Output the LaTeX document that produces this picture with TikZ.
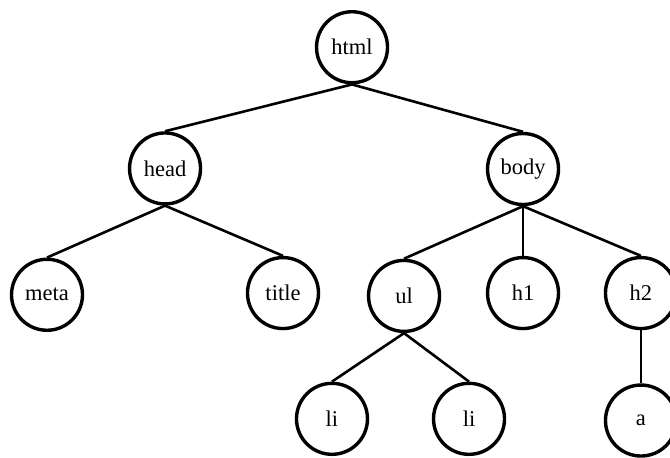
\documentclass[tikz,border=0pt]{standalone}
\usepackage{fontspec}
\setmainfont{Liberation Serif}
\begin{document}
\begin{tikzpicture}[scale=0.2]
			\tikzstyle{every node}+=[inner sep=0pt]
			\tikzstyle{tag}=[draw, circle, line width=3.4pt, minimum size=71pt, font=\fontsize{22.5}{27}\selectfont]
			\tikzstyle{link}=[line width=2.6pt]
			\useasboundingbox (0,0) rectangle (117.74,-80.48);
			\node [tag] (html) at (61.86,-8.3) {html};

			\node [tag] (head) at (29.0,-29.6) {head};
			\node [tag] (body) at (91.91,-29.7) {body};

			\node [tag] (meta) at (8.26,-51.8) {meta};
			\node [tag] (title) at (49.73,-51.5) {title};
			\node [tag] (ul) at (71.0,-52.0) {ul};
			\node [tag] (h1) at (91.91,-51.5) {h1};
			\node [tag] (h2) at (112.64,-51.5) {h2};

			\node [tag] (li1) at (58.34,-73.6) {li};
			\node [tag] (li2) at (82.42,-73.6) {li};
			\node [tag] (a) at (112.64,-73.9) {a};

			\draw [link] (html.south) -- (head.north);
			\draw [link] (html.south) -- (body.north);
			\draw [link] (head.south) -- (meta.north);
			\draw [link] (head.south) -- (title.north);
			\draw [link] (body.south) -- (ul.north);
			\draw [link] (body.south) -- (h1.north);
			\draw [link] (body.south) -- (h2.north);
			\draw [link] (ul.south) -- (li1.north);
			\draw [link] (ul.south) -- (li2.north);
			\draw [link] (h2.south) -- (a.north);
		\end{tikzpicture}
\end{document}
